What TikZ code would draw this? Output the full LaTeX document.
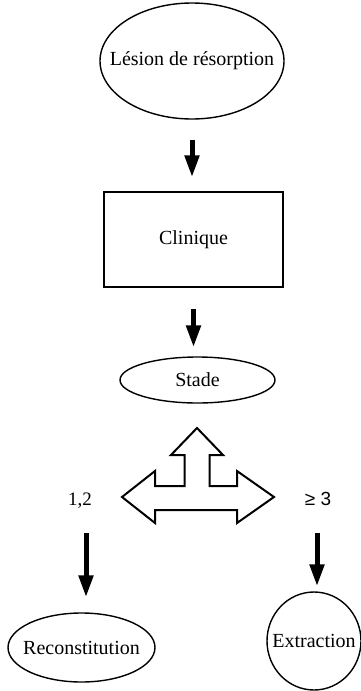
\documentclass[tikz,border=0pt]{standalone}
\usepackage{fontspec}
\setmainfont{Liberation Serif}
\newfontfamily\lsans{Liberation Sans}
\usetikzlibrary{shapes.geometric,arrows.meta}
\tikzset{
  lab/.style={font=\fontsize{20}{24}\selectfont, inner sep=0pt},
  oval/.style={ellipse, draw, line width=1.4pt, lab},
  boxnode/.style={rectangle, draw, line width=1.4pt, lab},
  bigarrow/.style={line width=5pt, -{Triangle[width=14pt,length=22pt]}},
  tarrow/.style={draw, line width=2pt, line join=miter},
  numlab/.style={font=\fontsize{19}{22}\selectfont, inner sep=0pt}
}
\begin{document}
\begin{tikzpicture}[x=1pt,y=-1pt]
\useasboundingbox (0,0) rectangle (361,691);
\node[oval, minimum width=184pt, minimum height=116pt] (lesion) at (192,61) {\makebox[0pt]{Lésion de résorption}};
\node[boxnode, minimum width=179pt, minimum height=95pt] (clin) at (193.5,239.5) {Clinique};
\node[oval, minimum width=155pt, minimum height=46pt] (stade) at (197.5,380) {\makebox[0pt]{Stade}};
\node[oval, minimum width=147pt, minimum height=69pt] (recon) at (81.5,647.5) {\makebox[0pt]{Reconstitution}};
\node[oval, minimum width=94pt, minimum height=98pt] (extr) at (314,641) {\makebox[0pt]{Extraction}};

\draw[bigarrow, shorten <=20pt, shorten >=14pt] (lesion.south) -- (lesion.south |- clin.north);
\draw[bigarrow, shorten <=21pt, shorten >=9pt] (clin.south) -- (clin.south |- stade.north);

% three-way arrow
\draw[tarrow] (197,428) -- (223,455) -- (209.5,455) -- (209.5,486) -- (237,486) -- (237,471)
  -- (274,497) -- (237,523) -- (237,510) -- (155,510) -- (155,523) -- (122,497)
  -- (155,471) -- (155,486) -- (184.5,486) -- (184.5,455) -- (171,455) -- cycle;

\node[numlab] (n12) at (80,501) {1,2};
\node[numlab, font=\lsans\fontsize{19}{22}\selectfont] (n3) at (318,499) {≥ 3};

\coordinate (la) at (86,533);
\coordinate (ra) at (317,533);
\draw[bigarrow, shorten >=15pt] (la) -- (la |- recon.north);
\draw[bigarrow, shorten >=5pt] (ra) -- (ra |- extr.north);
\end{tikzpicture}
\end{document}
